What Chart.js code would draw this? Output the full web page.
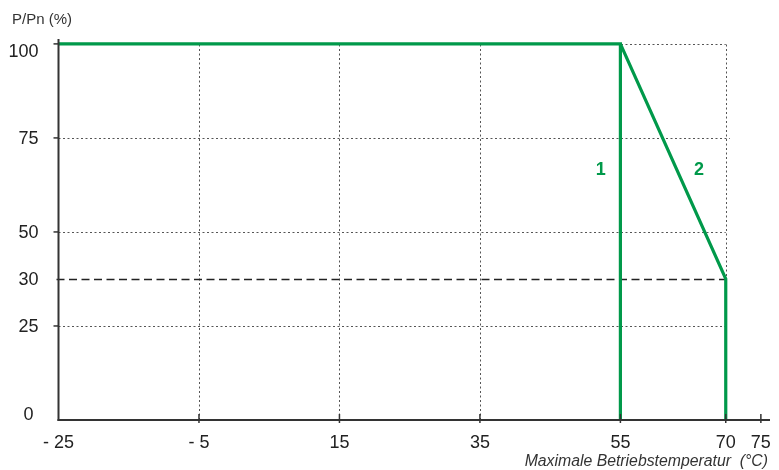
<!DOCTYPE html>
<html>
<head>
<meta charset="utf-8">
<script src="https://cdn.jsdelivr.net/npm/chart.js@4/dist/chart.umd.min.js"></script>
<style>
    html, body { margin: 0; padding: 0; background: #fff; }
    #wrap { width: 779px; height: 470px; }
</style>
</head>
<body>
<div id="wrap"><canvas id="derating"></canvas></div>
<script>
    "use strict";

    // Data
    var xTicks = [-25, -5, 15, 35, 55, 70, 75];
    var xTickLabels = ["- 25", "- 5", "15", "35", "55", "70", "75"];
    var yTicks = [0, 25, 30, 50, 75, 100];
    var yTickLabels = ["0", "25", "30", "50", "75", "100"];
    var xGrid = [-5, 15, 35, 55, 70];
    var yGrid = [25, 50, 75, 100];
    var limitValue = 30;

    // curve 1: full power up to 55 °C, then off
    var curve1X = [-25, 55, 55];
    var curve1Y = [100, 100, 0];
    // curve 2: linear derating 55 -> 70 °C down to 30 %
    var curve2X = [55, 70, 70];
    var curve2Y = [100, 30, 0];

    var curveNames = ["1", "2"];
    var nameX = [52.2, 66.2];
    var nameY = [66.6, 66.6];

    var GREEN = "#00994a";
    var INK = "#333333";
    var FONT = "'Liberation Sans', Arial, Helvetica, sans-serif";

    // The original y axis is not linear: 30 sits halfway between 25 and 50
    var warpFrom = [0, 25, 30, 50];
    var warpTo = [0, 25, 37.5, 50];
    var warp = function (v) {
        if (v <= warpFrom[1] || v >= warpFrom[3]) {
            return v;
        }
        for (var i = 1; i < warpFrom.length - 1; i++) {
            if (v <= warpFrom[i + 1]) {
                var t = (v - warpFrom[i]) / (warpFrom[i + 1] - warpFrom[i]);
                return warpTo[i] + t * (warpTo[i + 1] - warpTo[i]);
            }
        }
        return v;
    };
    var unwarp = function (v) {
        if (v <= warpTo[1] || v >= warpTo[3]) {
            return v;
        }
        for (var i = 1; i < warpTo.length - 1; i++) {
            if (v <= warpTo[i + 1]) {
                var t = (v - warpTo[i]) / (warpTo[i + 1] - warpTo[i]);
                return warpFrom[i] + t * (warpFrom[i + 1] - warpFrom[i]);
            }
        }
        return v;
    };

    class WarpedScale extends Chart.LinearScale {
        getPixelForValue(value) {
            return super.getPixelForValue(warp(value));
        }
        getValueForPixel(pixel) {
            return unwarp(super.getValueForPixel(pixel));
        }
    }
    WarpedScale.id = "warped";
    WarpedScale.defaults = Chart.LinearScale.defaults;
    Chart.register(WarpedScale);

    var toPoints = function (xs, ys) {
        return xs.map(function (x, i) { return {x: x, y: ys[i]}; });
    };

    var line = function (ctx, x1, y1, x2, y2) {
        ctx.beginPath();
        ctx.moveTo(x1, y1);
        ctx.lineTo(x2, y2);
        ctx.stroke();
    };

    // grid, axes, tick marks
    var framePlugin = {
        id: "frame",
        beforeDatasetsDraw: function (chart) {
            var ctx = chart.ctx;
            var xs = chart.scales.x, ys = chart.scales.y;
            var x0 = xs.getPixelForValue(xTicks[0]);
            var xEnd = xs.getPixelForValue(xGrid[xGrid.length - 1]);
            var y0 = ys.getPixelForValue(0);
            var yTop = ys.getPixelForValue(yGrid[yGrid.length - 1]);
            ctx.save();
            ctx.strokeStyle = "#555";
            ctx.lineWidth = 1;
            ctx.setLineDash([2, 2.5]);
            xGrid.forEach(function (v) {
                var px = Math.round(xs.getPixelForValue(v)) + 0.5;
                line(ctx, px, y0, px, yTop);
            });
            yGrid.forEach(function (v) {
                var py = Math.round(ys.getPixelForValue(v)) + 0.5;
                line(ctx, x0, py, xEnd + (v === 75 ? 4 : 0), py);
            });
            ctx.strokeStyle = "#222";
            ctx.lineWidth = 1.4;
            ctx.setLineDash([8, 4.5]);
            var pl = Math.round(ys.getPixelForValue(limitValue)) + 0.5;
            line(ctx, x0 - 2, pl, xEnd, pl);
            ctx.restore();
        },
        afterDatasetsDraw: function (chart) {
            var ctx = chart.ctx;
            var xs = chart.scales.x, ys = chart.scales.y;
            var area = chart.chartArea;
            var x0 = xs.getPixelForValue(xTicks[0]);
            var y0 = ys.getPixelForValue(0);
            ctx.save();
            ctx.strokeStyle = INK;
            ctx.lineWidth = 2;
            line(ctx, x0, area.top, x0, y0 + 1);
            line(ctx, x0 - 1, y0, area.right, y0);
            ctx.lineWidth = 1.5;
            yGrid.forEach(function (v) {
                var py = ys.getPixelForValue(v);
                line(ctx, x0 - 5, py, x0, py);
            });
            xTicks.slice(1).forEach(function (v) {
                var px = xs.getPixelForValue(v);
                line(ctx, px, y0 - 6, px, y0 + 3);
            });

            // y tick labels (top and bottom ones sit inside the axis range)
            ctx.fillStyle = "#222";
            ctx.font = "18px " + FONT;
            ctx.textAlign = "right";
            ctx.textBaseline = "middle";
            yTicks.forEach(function (v, i) {
                var py = ys.getPixelForValue(v);
                var px = x0 - 20;
                if (i === 0) {
                    py -= 6;
                    px = x0 - 25;
                } else if (i === yTicks.length - 1) {
                    py += 7;
                }
                ctx.fillText(yTickLabels[i], px, py + 1);
            });

            // curve names
            ctx.fillStyle = GREEN;
            ctx.font = "bold 18px " + FONT;
            ctx.textAlign = "center";
            curveNames.forEach(function (name, i) {
                ctx.fillText(name, xs.getPixelForValue(nameX[i]), ys.getPixelForValue(nameY[i]) + 1);
            });

            // axis titles
            ctx.fillStyle = INK;
            ctx.font = "15px " + FONT;
            ctx.textAlign = "left";
            ctx.textBaseline = "alphabetic";
            ctx.fillText("P/Pn (%)", 12, 24);
            ctx.font = "italic 15.8px " + FONT;
            ctx.textAlign = "right";
            ctx.fillText("Maximale Betriebstemperatur  (\u00B0C)", 768, 466);
            ctx.restore();
        }
    };

    var ctx = document.getElementById("derating").getContext("2d");
    var derating = new Chart(ctx, {
        type: "scatter",
        data: {
            datasets: [{
                    label: "1",
                    data: toPoints(curve1X, curve1Y),
                    showLine: true,
                    borderColor: GREEN,
                    borderWidth: 3.2,
                    pointRadius: 0,
                    clip: false
                },
                {
                    label: "2",
                    data: toPoints(curve2X, curve2Y),
                    showLine: true,
                    borderColor: GREEN,
                    borderWidth: 3.2,
                    pointRadius: 0,
                    clip: false
                }
            ]
        },
        options: {
            responsive: true,
            maintainAspectRatio: false,
            animation: false,
            events: [],
            layout: {
                padding: {top: 39, right: 9, left: 0, bottom: 0}
            },
            plugins: {
                legend: {display: false},
                tooltip: {enabled: false}
            },
            scales: {
                x: {
                    type: "linear",
                    min: -25,
                    max: 76.3,
                    grid: {display: false, drawTicks: false},
                    border: {display: false},
                    afterBuildTicks: function (scale) {
                        scale.ticks = xTicks.map(function (v) { return {value: v}; });
                    },
                    afterFit: function (scale) {
                        scale.height = 50;
                        scale.paddingLeft = 0;
                        scale.paddingRight = 0;
                    },
                    ticks: {
                        autoSkip: false,
                        maxRotation: 0,
                        padding: 12,
                        color: "#222",
                        font: {family: FONT, size: 18},
                        callback: function (value) {
                            var i = xTicks.indexOf(value);
                            return i >= 0 ? xTickLabels[i] : "";
                        }
                    }
                },
                y: {
                    type: "warped",
                    min: 0,
                    max: 101.3,
                    grid: {display: false, drawTicks: false},
                    border: {display: false},
                    afterBuildTicks: function (scale) {
                        scale.ticks = yTicks.map(function (v) { return {value: v}; });
                    },
                    afterFit: function (scale) {
                        scale.width = 58.5;
                        scale.paddingTop = 0;
                        scale.paddingBottom = 0;
                    },
                    ticks: {display: false}
                }
            }
        },
        plugins: [framePlugin]
    });
</script>
</body>
</html>
